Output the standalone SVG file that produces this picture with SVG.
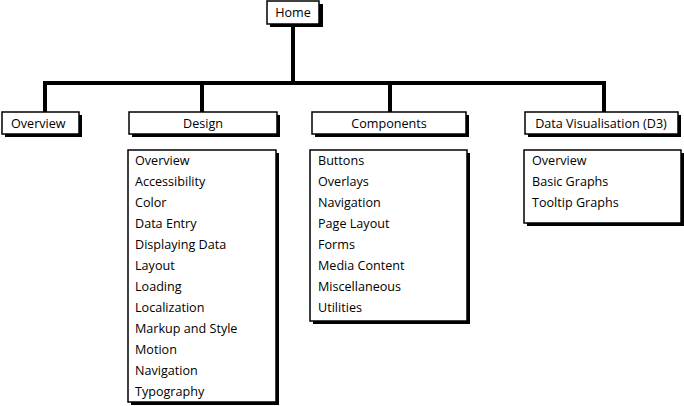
<svg xmlns="http://www.w3.org/2000/svg" width="684" height="406" viewBox="0 0 684 406">
<style>
.sh{fill:#000}
.bx{fill:#fff;stroke:#000;stroke-width:1.5}
.t{font-family:"Open Sans","Liberation Sans",sans-serif;font-size:12.6px;fill:#000}
.c{text-anchor:middle}
.ln{fill:none;stroke:#000;stroke-width:4;stroke-linecap:square}
</style>
<rect width="684" height="406" fill="#fff"/>
<g id="connectors">
<path class="ln" d="M293 25 V83 M45 83 H604 M45 83 V111 M202 83 V111 M390 83 V111 M604 83 V111"/>
</g>
<g id="home">
<rect class="sh" x="270" y="4" width="53" height="23"/>
<rect class="bx" x="267" y="1" width="52" height="23"/>
<text class="t c" x="293" y="17">Home</text>
</g>
<g id="overview">
<rect class="sh" x="5" y="115" width="77" height="22"/>
<rect class="bx" x="2" y="112" width="77" height="22"/>
<text class="t" x="11" y="128">Overview</text>
</g>
<g id="design">
<rect class="sh" x="132" y="115" width="148" height="22"/>
<rect class="bx" x="129" y="112" width="148" height="22"/>
<text class="t c" x="203" y="128">Design</text>
</g>
<g id="components">
<rect class="sh" x="315" y="115" width="154" height="22"/>
<rect class="bx" x="312" y="112" width="154" height="22"/>
<text class="t c" x="389" y="128">Components</text>
</g>
<g id="datavis">
<rect class="sh" x="528" y="115" width="153" height="22"/>
<rect class="bx" x="525" y="112" width="153" height="22"/>
<text class="t c" x="601" y="128">Data Visualisation (D3)</text>
</g>
<g id="design-list">
<rect class="sh" x="131" y="153" width="148" height="252"/>
<rect class="bx" x="128" y="150" width="148" height="252"/>
<text class="t" x="135" y="165">Overview</text>
<text class="t" x="135" y="186">Accessibility</text>
<text class="t" x="135" y="207">Color</text>
<text class="t" x="135" y="228">Data Entry</text>
<text class="t" x="135" y="249">Displaying Data</text>
<text class="t" x="135" y="270">Layout</text>
<text class="t" x="135" y="291">Loading</text>
<text class="t" x="135" y="312">Localization</text>
<text class="t" x="135" y="333">Markup and Style</text>
<text class="t" x="135" y="354">Motion</text>
<text class="t" x="135" y="375">Navigation</text>
<text class="t" x="135" y="396">Typography</text>
</g>
<g id="components-list">
<rect class="sh" x="313" y="153" width="157" height="171"/>
<rect class="bx" x="310" y="150" width="157" height="171"/>
<text class="t" x="318" y="165">Buttons</text>
<text class="t" x="318" y="186">Overlays</text>
<text class="t" x="318" y="207">Navigation</text>
<text class="t" x="318" y="228">Page Layout</text>
<text class="t" x="318" y="249">Forms</text>
<text class="t" x="318" y="270">Media Content</text>
<text class="t" x="318" y="291">Miscellaneous</text>
<text class="t" x="318" y="312">Utilities</text>
</g>
<g id="datavis-list">
<rect class="sh" x="527" y="153" width="157" height="73"/>
<rect class="bx" x="524" y="150" width="157" height="73"/>
<text class="t" x="532" y="165">Overview</text>
<text class="t" x="532" y="186">Basic Graphs</text>
<text class="t" x="532" y="207">Tooltip Graphs</text>
</g>
</svg>
